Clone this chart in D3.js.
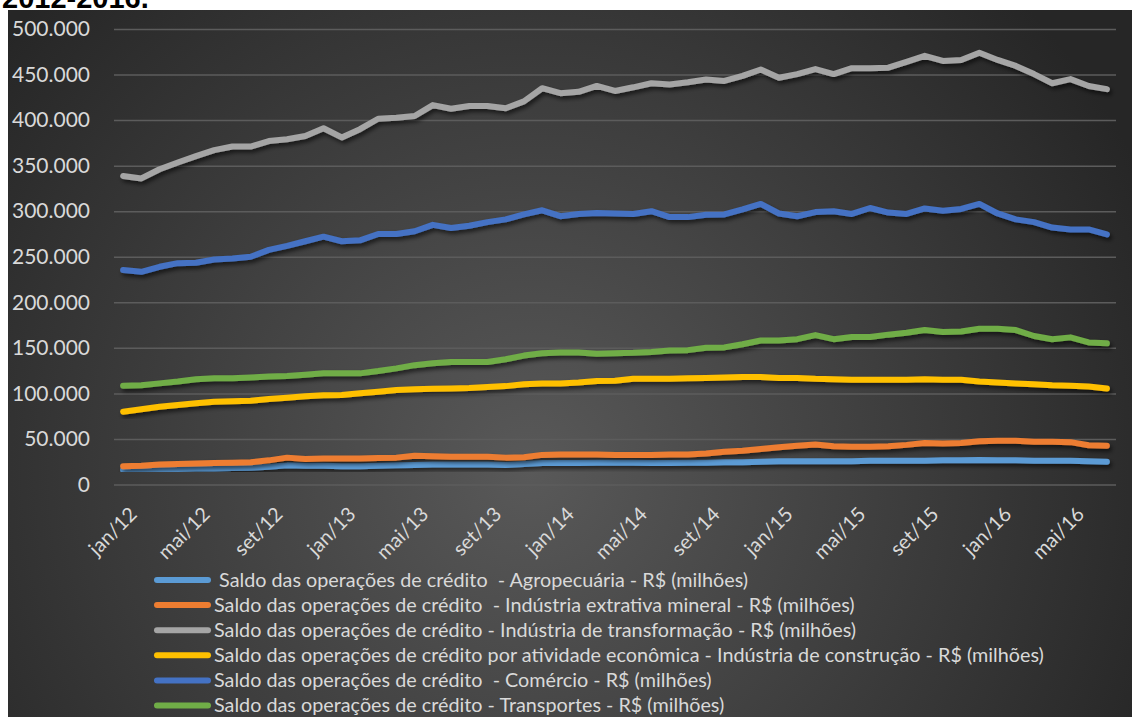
<!DOCTYPE html>
<html>
<head>
<meta charset="utf-8">
<script src="https://cdn.jsdelivr.net/npm/d3@7"></script>
<style>
  html, body { margin: 0; padding: 0; background: #fff; }
  svg { display: block; }
</style>
</head>
<body>
<svg id="chart" width="1132" height="717"></svg>
<script>
// categories (monthly, jan/12 .. jul/16)
const months = [
  "jan/12","fev/12","mar/12","abr/12","mai/12","jun/12","jul/12","ago/12","set/12","out/12","nov/12","dez/12",
  "jan/13","fev/13","mar/13","abr/13","mai/13","jun/13","jul/13","ago/13","set/13","out/13","nov/13","dez/13",
  "jan/14","fev/14","mar/14","abr/14","mai/14","jun/14","jul/14","ago/14","set/14","out/14","nov/14","dez/14",
  "jan/15","fev/15","mar/15","abr/15","mai/15","jun/15","jul/15","ago/15","set/15","out/15","nov/15","dez/15",
  "jan/16","fev/16","mar/16","abr/16","mai/16","jun/16","jul/16"
];

// series values, R$ millions
const agropecuaria = [
  16000,16000,16500,17000,17500,17500,18000,18500,19500,21000,20500,20500,
  20000,20000,20500,21000,21500,22000,22000,22000,22000,21500,22500,23500,
  23500,23500,24000,24000,24000,23500,23500,24000,24000,24500,24500,25000,
  25500,25500,25500,25500,25500,26000,26000,26000,26000,26500,26500,27000,
  26500,26500,26000,26000,26000,25500,25000
];
const extrativa = [
  20000,20500,22000,22500,23000,23500,24000,24500,26500,29500,28000,28500,
  28500,28500,29000,29500,31500,31000,30500,30500,30500,29500,30000,32500,
  33000,33000,33000,32500,32500,32500,33000,33000,34000,36000,37000,39000,
  41000,42500,44000,42000,41500,41500,42000,43500,45500,45000,45500,47500,
  48000,48000,47000,47000,46500,43000,42500
];
const transformacao = [
  338600,336000,346000,353500,360500,367000,371000,371000,377000,379000,382500,391000,
  381000,390000,401500,402500,404500,416500,412500,415500,415500,413000,420500,435000,
  429500,431000,437500,432000,436000,440500,439000,441500,444500,443000,448500,455500,
  446500,450500,456000,450500,457000,457000,457500,464000,470500,465000,466000,474000,
  466000,459500,450500,440500,445000,437500,434000
];
const construcao = [
  79900,82500,85400,87300,89100,90900,91300,92000,93900,95300,96800,97900,
  98200,100100,101900,103700,104500,105000,105500,106000,107000,108000,110000,111000,
  111000,112000,113500,114000,116000,116000,116000,116500,117000,117500,118000,118000,
  117000,117000,116000,115500,115000,115000,115000,115000,115500,115000,115000,113000,
  112000,111000,110000,109000,108500,107500,105500
];
const comercio = [
  235500,233500,239000,243000,243500,247000,248000,250000,257500,262000,267000,272000,
  267000,268000,275000,275000,278000,285000,281500,284000,288000,291000,296500,301000,
  294500,297000,298000,297500,297000,300000,293500,293500,296000,296500,302000,308000,
  297500,294500,299000,300000,297000,303500,298500,297000,303000,300500,302500,308000,
  297500,291000,288000,282000,280000,280000,274500
];
const transportes = [
  108500,109000,111000,113000,115500,116500,116500,117500,118500,119000,120500,122000,
  122000,122000,124500,127500,131000,133000,134500,134500,134500,137500,141500,144000,
  145000,145000,143500,144000,144500,145500,147000,147500,150000,150500,154000,158000,
  158000,159500,164000,159500,162000,162000,164500,166500,169500,167500,168000,171000,
  171000,169500,163000,159500,161500,156000,155000
];

const seriesNames = [
  " Saldo das operações de crédito  - Agropecuária - R$ (milhões)",
  "Saldo das operações de crédito  - Indústria extrativa mineral - R$ (milhões)",
  "Saldo das operações de crédito - Indústria de transformação - R$ (milhões)",
  "Saldo das operações de crédito por atividade econômica - Indústria de construção - R$ (milhões)",
  "Saldo das operações de crédito  - Comércio - R$ (milhões)",
  "Saldo das operações de crédito - Transportes - R$ (milhões)"
];
const seriesColors = ["#5b9bd5", "#ed7d31", "#a5a5a5", "#ffc000", "#4472c4", "#70ad47"];
const yTicks = [0, 50000, 100000, 150000, 200000, 250000, 300000, 350000, 400000, 450000, 500000];
const xTicks = months.filter((m, i) => i % 4 === 0);

const allSeries = [agropecuaria, extrativa, transformacao, construcao, comercio, transportes];

const ptBR = d3.formatLocale({ decimal: ",", thousands: ".", grouping: [3], currency: ["R$", ""] });
const fmt = ptBR.format(",d");

const svg = d3.select("#chart");
const defs = svg.append("defs");

// background gradient like the Excel dark style
const grad = defs.append("radialGradient")
  .attr("id", "bg")
  .attr("gradientUnits", "userSpaceOnUse")
  .attr("cx", 530).attr("cy", 470).attr("r", 680);
grad.append("stop").attr("offset", "0%").attr("stop-color", "#595959");
grad.append("stop").attr("offset", "100%").attr("stop-color", "#262626");

const shadow = defs.append("filter").attr("id", "shadow")
  .attr("x", "-5%").attr("y", "-20%").attr("width", "110%").attr("height", "140%");
shadow.append("feDropShadow")
  .attr("dx", 2).attr("dy", 3).attr("stdDeviation", 2)
  .attr("flood-color", "#000").attr("flood-opacity", 0.6);

// title, only its lower part is visible above the chart
svg.append("text")
  .attr("x", 2).attr("y", 8)
  .attr("font-family", "Liberation Sans, Arial, sans-serif")
  .attr("font-weight", "bold")
  .attr("font-size", 29)
  .attr("fill", "#000")
  .text("2012-2016.");

svg.append("rect")
  .attr("x", 8).attr("y", 10)
  .attr("width", 1124).attr("height", 707)
  .attr("fill", "url(#bg)");

const x = d3.scaleBand().domain(months).range([114, 1116]);
const y = d3.scaleLinear().domain([0, 500000]).range([484.5, 29]);
const cx = d => x(d) + x.bandwidth() / 2;

// y axis + gridlines
const yAxis = svg.append("g")
  .attr("transform", "translate(114,0)")
  .call(d3.axisLeft(y).tickValues(yTicks).tickFormat(fmt).tickSize(-1002).tickPadding(24));
yAxis.select(".domain").remove();
yAxis.selectAll(".tick line").attr("stroke", "#5c5c5c").attr("stroke-width", 1.5);
yAxis.selectAll(".tick text")
  .attr("fill", "#d9d9d9")
  .attr("font-family", "Lato, 'Open Sans', sans-serif")
  .attr("font-size", 21);

// x axis labels
const xAxis = svg.append("g")
  .attr("transform", "translate(0,484.5)")
  .call(d3.axisBottom(x).tickValues(xTicks).tickSize(0));
xAxis.select(".domain").remove();
xAxis.selectAll(".tick text")
  .attr("fill", "#d9d9d9")
  .attr("font-family", "Lato, 'Open Sans', sans-serif")
  .attr("font-size", 20)
  .attr("text-anchor", "end")
  .attr("dy", 0)
  .attr("transform", "translate(13,29) rotate(-45)");

// lines
const line = d3.line()
  .x((d, i) => cx(months[i]))
  .y(d => y(d));

svg.append("g").selectAll("path")
  .data(allSeries)
  .join("path")
  .attr("d", d => line(d))
  .attr("fill", "none")
  .attr("stroke", (d, i) => seriesColors[i])
  .attr("stroke-width", 6)
  .attr("stroke-linejoin", "round")
  .attr("stroke-linecap", "round")
  .attr("filter", "url(#shadow)");

// legend
const legend = svg.append("g");
const rows = legend.selectAll("g")
  .data(seriesNames)
  .join("g")
  .attr("transform", (d, i) => `translate(0,${580 + i * 25.1})`);
rows.append("line")
  .attr("x1", 157).attr("x2", 208)
  .attr("stroke", (d, i) => seriesColors[i])
  .attr("stroke-width", 6)
  .attr("stroke-linecap", "round");
rows.append("text")
  .attr("x", 214)
  .attr("dy", "0.35em")
  .attr("fill", "#d9d9d9")
  .attr("font-family", "Lato, 'Open Sans', sans-serif")
  .attr("font-size", 19.8)
  .style("white-space", "pre")
  .text(d => d);
</script>
</body>
</html>
